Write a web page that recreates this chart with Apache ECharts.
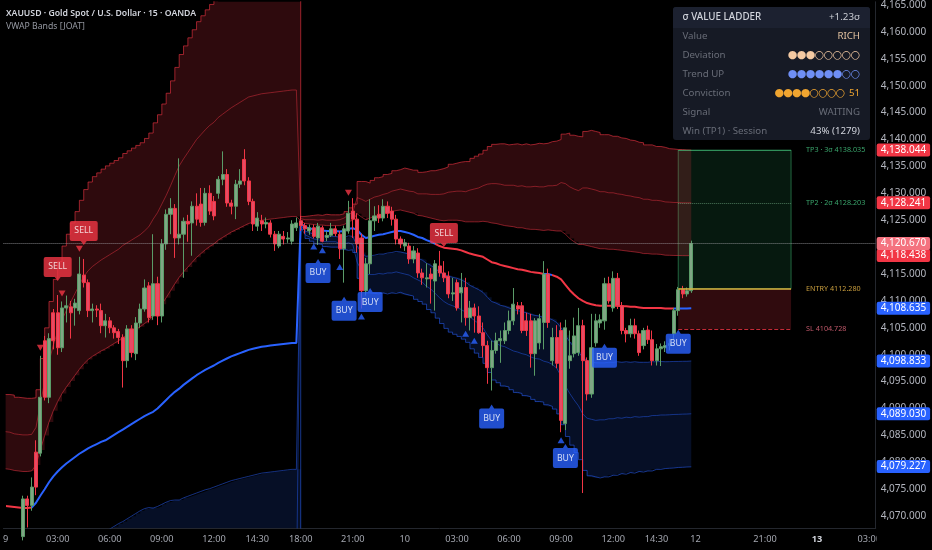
<!DOCTYPE html>
<html><head><meta charset="utf-8">
<script src="https://cdn.jsdelivr.net/npm/echarts@6/dist/echarts.min.js"></script>
<style>html,body{margin:0;padding:0;background:#000;}#c{width:932px;height:550px;}</style>
</head><body><div id="c"></div>
<script>
// ---------- DATA ----------
const open = [
4064.5,4065.0,4064.2,4065.3,4066.2,4073.2,4072.0,4081.9,4081.7,4102.6,
4092.1,4107.8,4107.8,4101.3,4108.7,4108.9,4108.7,4108.2,4114.8,4113.4,
4108.2,4108.5,4108.2,4105.4,4106.3,4105.0,4104.3,4103.2,4098.9,4104.8,
4100.2,4105.9,4108.5,4112.8,4107.2,4113.2,4107.2,4120.6,4126.1,4127.2,
4121.7,4122.4,4124.8,4124.5,4127.6,4128.0,4124.6,4130.0,4128.5,4130.0,
4132.6,4133.5,4128.2,4127.6,4131.7,4136.3,4132.3,4128.5,4123.9,4124.9,
4124.3,4124.5,4122.4,4120.2,4122.0,4121.5,4121.1,4123.6,
4124.9,4124.0,4123.0,4123.6,4121.7,4123.6,4121.8,4122.2,4123.4,4122.4,
4119.7,4123.0,4126.7,4125.2,4121.7,4111.9,4116.9,4124.9,4126.1,4125.4,
4127.6,4126.7,4125.2,4121.5,4120.2,4120.2,4117.8,4118.9,4115.2,4114.1,
4115.0,4113.7,4116.5,4115.2,4114.6,4111.3,4113.4,4111.5,4112.5,4106.9,
4108.7,4107.2,4104.1,4101.7,4097.6,4100.8,4102.6,4102.6,4104.5,4106.3,
4109.1,4109.1,4106.3,4106.3,4100.2,4102.2,4106.0,4115.0,4098.9,4103.2,
4104.5,4087.2,4098.9,4100.2,4100.4,4105.4,4098.9,4092.7,4102.2,4105.9,
4106.3,4113.2,4108.7,4114.2,4109.1,4104.5,4103.9,4105.4,4103.9,4101.7,
4104.6,4102.8,4098.9,4101.1,4101.3,4101.7,4103.9,4108.2,4112.1,4111.3,
4111.9];
const high = [
4066.2,4066.8,4066.0,4067.4,4073.8,4073.8,4077.2,4084.1,4099.8,4103.5,
4104.0,4108.5,4111.1,4109.9,4111.0,4110.0,4110.4,4118.2,4117.8,4114.0,
4109.5,4109.2,4109.5,4107.6,4107.0,4105.5,4104.8,4103.8,4105.5,4105.5,
4107.0,4109.5,4114.0,4113.5,4122.4,4114.5,4121.5,4127.0,4129.1,4128.0,
4136.5,4125.5,4126.0,4128.5,4130.0,4131.0,4131.0,4131.5,4129.5,4133.2,
4137.8,4134.5,4128.8,4132.5,4134.5,4138.2,4133.0,4129.0,4126.5,4126.0,
4125.5,4125.0,4123.0,4123.0,4123.0,4122.8,4125.0,4125.5,
4125.8,4124.5,4124.2,4124.2,4124.5,4124.0,4123.0,4124.5,4124.0,4123.0,
4124.0,4128.6,4129.1,4126.3,4122.5,4118.0,4128.9,4127.6,4127.8,4128.9,
4128.5,4127.5,4126.0,4122.0,4121.5,4120.8,4120.2,4119.8,4116.0,4117.0,
4116.1,4117.6,4119.3,4117.4,4115.5,4114.3,4114.0,4115.2,4114.3,4110.0,
4109.5,4109.0,4106.0,4102.6,4102.6,4104.1,4104.5,4106.0,4108.2,4112.4,
4109.8,4109.8,4107.8,4107.6,4106.8,4107.6,4117.4,4116.0,4105.0,4105.5,
4106.0,4106.5,4104.5,4106.9,4108.7,4106.5,4099.5,4107.6,4107.6,4107.5,
4114.3,4114.5,4115.5,4115.2,4109.8,4105.0,4106.7,4106.7,4104.5,4105.0,
4105.4,4104.5,4102.0,4102.1,4102.5,4103.0,4108.7,4112.6,4112.8,4112.5,
4121.2];
const low = [
4063.0,4063.8,4062.9,4064.4,4065.5,4067.9,4071.0,4073.9,4081.1,4091.5,
4091.0,4101.0,4100.0,4100.5,4106.0,4103.0,4105.4,4107.5,4112.5,4107.0,
4106.0,4107.0,4104.0,4103.2,4104.0,4103.0,4102.0,4093.9,4097.6,4099.5,
4099.0,4105.0,4108.0,4106.0,4106.5,4105.5,4106.0,4119.5,4122.4,4118.0,
4120.5,4114.3,4121.0,4118.4,4124.0,4123.8,4124.0,4126.0,4125.0,4129.0,
4131.5,4127.5,4126.1,4125.2,4131.0,4131.5,4127.8,4123.0,4123.0,4123.0,
4123.5,4121.8,4119.3,4119.8,4120.5,4120.8,4120.5,4123.0,
4123.0,4122.5,4122.3,4121.6,4120.4,4120.9,4121.1,4121.9,4122.0,4117.8,
4113.4,4122.5,4121.7,4119.0,4108.6,4111.0,4115.0,4123.0,4124.5,4124.8,
4125.4,4124.0,4120.5,4119.8,4119.3,4116.9,4117.0,4114.3,4113.0,4112.5,
4109.5,4108.2,4114.5,4113.5,4110.5,4110.0,4108.2,4106.0,4105.4,4104.5,
4104.1,4103.9,4099.5,4094.6,4093.35,4100.2,4098.5,4102.0,4103.8,4105.5,
4107.5,4104.0,4103.5,4097.6,4096.1,4101.0,4101.0,4105.0,4098.0,4097.5,
4085.6,4086.0,4097.4,4099.5,4099.8,4074.3,4091.5,4092.0,4101.5,4105.0,
4104.65,4109.5,4108.0,4108.5,4103.8,4102.3,4103.2,4103.0,4099.8,4101.0,
4102.0,4098.0,4098.0,4097.9,4100.5,4100.8,4102.8,4107.25,4110.5,4110.8,
4111.5];
const close = [
4065.0,4064.2,4065.3,4066.2,4073.2,4072.0,4075.4,4075.4,4092.1,4092.1,
4103.0,4102.6,4101.3,4108.7,4109.1,4107.8,4109.6,4115.0,4113.4,4108.2,
4108.5,4108.3,4105.4,4106.3,4105.0,4104.1,4103.2,4098.9,4104.8,4100.4,
4105.9,4108.5,4112.4,4106.9,4113.2,4107.2,4120.6,4126.1,4127.2,4121.7,
4122.4,4124.8,4124.3,4127.6,4125.2,4124.6,4130.0,4126.7,4125.8,4132.6,
4133.5,4128.2,4127.6,4131.7,4132.3,4132.3,4128.5,4124.3,4125.4,4124.3,
4124.6,4122.4,4120.6,4122.4,4121.5,4121.7,4124.3,4124.5,
4124.0,4123.4,4123.6,4122.0,4123.9,4121.1,4122.2,4123.4,4122.5,4119.7,
4123.4,4126.3,4125.2,4120.6,4111.9,4116.9,4124.9,4125.8,4125.4,4127.6,
4126.3,4125.2,4121.5,4120.6,4120.8,4117.8,4119.3,4115.2,4114.3,4114.3,
4114.1,4116.9,4115.2,4114.3,4111.3,4111.5,4108.7,4112.5,4106.9,4108.7,
4107.2,4104.1,4101.7,4097.6,4100.8,4102.6,4103.0,4104.5,4106.3,4109.4,
4108.5,4104.5,4104.5,4100.2,4106.3,4106.7,4115.0,4106.0,4103.2,4098.4,
4087.8,4105.0,4099.8,4103.5,4105.4,4098.9,4092.7,4101.3,4106.3,4106.5,
4113.2,4110.0,4114.2,4109.1,4104.5,4103.9,4105.4,4103.9,4100.4,4104.5,
4102.8,4098.9,4101.1,4101.5,4101.7,4102.1,4108.2,4112.1,4111.3,4111.9,
4120.67];
const vwap = [
4071.9,4071.8,4071.7,4071.6,4071.5,4071.5,4071.6,4072.5,4073.8,4075.0,
4076.3,4077.4,4078.3,4079.1,4079.8,4080.4,4081.0,4081.6,4082.1,4082.6,
4083.0,4083.4,4083.8,4084.1,4084.6,4085.1,4085.6,4086.1,4086.6,4087.1,
4087.6,4088.1,4088.6,4089.0,4089.4,4090.0,4090.8,4091.6,4092.4,4093.1,
4093.7,4094.4,4095.0,4095.6,4096.2,4096.7,4097.2,4097.6,4098.0,4098.5,
4098.9,4099.3,4099.7,4100.0,4100.3,4100.6,4100.9,4101.1,4101.3,4101.5,
4101.6,4101.7,4101.8,4101.9,4102.0,4102.1,4102.2,4102.2,
4124.5,4123.7,4123.5,4123.3,4123.2,4123.1,4123.0,4123.0,4123.0,4122.9,
4123.0,4123.4,4123.5,4123.2,4122.3,4121.7,4121.9,4122.1,4122.3,4122.4,
4122.6,4122.8,4123.0,4123.0,4122.8,4122.6,4122.3,4121.9,4121.7,4121.3,
4121.0,4120.6,4120.2,4119.9,4119.8,4119.7,4119.6,4119.4,4119.1,4118.8,
4118.6,4118.4,4118.2,4117.7,4117.2,4117.0,4116.7,4116.5,4116.3,4116.1,
4115.9,4115.8,4115.6,4115.4,4115.3,4115.2,4115.0,4115.0,4114.8,4114.5,
4114.0,4113.0,4112.0,4111.2,4110.5,4110.0,4109.6,4109.4,4109.2,4109.1,
4109.1,4109.1,4109.1,4109.1,4109.0,4109.0,4108.9,4108.9,4108.8,4108.7,
4108.7,4108.7,4108.7,4108.7,4108.6,4108.6,4108.6,4108.6,4108.6,4108.6,
4108.6354];
const sigma = [
6.9,6.9,6.8,6.8,6.8,6.8,6.8,7.0,8.5,10.0,
11.2,12.2,13.0,13.7,14.2,14.7,15.2,15.7,16.2,16.5,
16.7,16.8,16.9,17.0,17.0,17.0,17.0,17.1,17.1,17.1,
17.1,17.1,17.2,17.4,17.9,18.2,18.6,19.0,19.5,20.1,
20.7,21.0,21.3,21.6,21.9,22.1,22.3,22.5,22.6,22.8,
22.9,23.0,23.1,23.2,23.3,23.4,23.5,23.5,23.5,23.5,
23.5,23.5,23.5,23.5,23.5,23.5,23.5,23.5,
0.4,0.7,0.8,0.9,0.9,1.0,1.0,1.0,1.0,1.1,
1.2,1.3,1.5,3.0,3.3,3.4,3.5,3.6,3.6,3.7,
3.7,3.8,3.8,3.9,3.9,3.9,4.0,4.0,4.1,4.3,
4.4,4.6,4.8,5.0,5.2,5.3,5.4,5.5,5.6,5.9,
6.1,6.3,6.6,7.0,7.3,7.4,7.5,7.5,7.6,7.7,
7.7,7.8,7.8,7.9,8.0,8.0,8.1,8.2,8.3,8.5,
9.0,9.4,9.6,9.8,10.0,10.5,10.7,10.7,10.7,10.6,
10.6,10.5,10.5,10.4,10.4,10.3,10.3,10.2,10.2,10.1,
10.1,10.0,10.0,9.95,9.9,9.88,9.85,9.84,9.82,9.81,
9.80275];
// VWAP colour regimes: [first bar, state]
const vwapTrend = [[0,'down'],[6,'up'],[99,'down'],[124,'up'],[126,'down'],[154,'up']];
// time axis
const slotCount = 201;
const timeTicks = [[0,'9'],[12,'03:00'],[24,'06:00'],[36,'09:00'],[48,'12:00'],[58,'14:30'],[68,'18:00'],[80,'21:00'],[92,'10'],[104,'03:00'],[116,'06:00'],[128,'09:00'],[140,'12:00'],[150,'14:30'],[159,'12'],[175,'21:00'],[187,'13'],[199,'03:00']];
const boldTicks = ['13'];
const priceTicks = [4070,4075,4080,4085,4090,4095,4100,4105,4110,4115,4120,4125,4130,4135,4140,4145,4150,4155,4160,4165];
// signals (bar indices)
const sellTriBars = [8,13,17,79];
const sellLabelBars = [12,18,101];
const buyTriBars = [71,73,77,82,106,108,128];
const buyLabelBars = [72,78,84,112,129,138,155];
// trade box
const tradeStart = 155, tradeEnd = 181;
const tradeEntry = 4112.280, tradeTP2 = 4128.203, tradeTP3 = 4138.035, tradeSL = 4104.728;
// table
const tableTitle = ['σ VALUE LADDER', '+1.23σ'];
const tableLabels = ['Value','Deviation','Trend UP','Conviction','Signal','Win (TP1) · Session'];
const tableText = {0:'RICH', 4:'WAITING', 5:'43% (1279)'};
const tableDots = {1:[3,8], 2:[6,8], 3:[4,8]};
const convictionScore = '51';
const headerTitle = 'XAUUSD · Gold Spot / U.S. Dollar · 15 · OANDA';
const headerSub = 'VWAP Bands [JOAT]';

// ---------- BUILD ----------
const FONT = "'Noto Sans', 'DejaVu Sans', sans-serif";
const RED = '#f23645', BLUE = '#2962ff';
const lastIdx = close.length - 1;
const slots = Array.from({length: slotCount}, (_, i) => String(i));
const tickMap = new Map(timeTicks);
const band = k => vwap.map((v, i) => v + k * sigma[i]);
const up1 = band(1), up2 = band(2), up3 = band(3), dn1 = band(-1), dn2 = band(-2), dn3 = band(-3);
const twoSigma = sigma.map(s => 2 * s);
const candleData = open.map((o, i) => [o, close[i], low[i], high[i]]);
const fmt = v => v.toLocaleString('en-US', {minimumFractionDigits: 3, maximumFractionDigits: 3});
const pieces = vwapTrend.map((r, k) => {
  const p = {gte: r[0] - 0.5, color: r[1] === 'up' ? BLUE : RED};
  if (k + 1 < vwapTrend.length) p.lt = vwapTrend[k + 1][0] - 0.5;
  return p;
});
const base = {type: 'line', symbol: 'none', silent: true, smooth: false};

const tagItems = [3, 2, 1, 0, -1, -2, -3].map(k => {
  const v = vwap[lastIdx] + k * sigma[lastIdx];
  return {yAxis: v, lineStyle: {color: 'rgba(0,0,0,0)', width: 0},
    label: {formatter: fmt(v), backgroundColor: k > 0 ? RED : BLUE}};
});
tagItems.push({yAxis: close[lastIdx],
  lineStyle: {type: 'dotted', color: 'rgba(170,170,175,0.75)', width: 1},
  label: {formatter: fmt(close[lastIdx]), backgroundColor: '#f4727f'}});

const tradeLine = (v, color, type, width, text, tcolor) => [
  {coord: [tradeStart, v], lineStyle: {color, type, width},
   label: {show: true, position: 'end', distance: 15, formatter: text, color: tcolor, fontSize: 7.2, fontFamily: FONT}},
  {coord: [tradeEnd, v]}];

const buyPath = 'path://M10,4 L12.5,0 L15,4 L23,4 Q25,4 25,6 L25,22 Q25,24 23,24 L2,24 Q0,24 0,22 L0,6 Q0,4 2,4 Z';
const sellPath = 'path://M2,0 L26,0 Q28,0 28,2 L28,18 Q28,20 26,20 L17,20 L14,24 L11,20 L2,20 Q0,20 0,18 L0,2 Q0,0 2,0 Z';

// table graphics
const TX = 673, TY = 7, TW = 197, TH = 133;
const tbl = [
  {type: 'rect', shape: {x: TX, y: TY, width: TW, height: TH, r: 3}, style: {fill: '#161a25'}},
  {type: 'rect', shape: {x: TX, y: TY, width: TW, height: 21, r: [3, 3, 0, 0]}, style: {fill: '#1c2130'}},
  {type: 'text', x: 682.5, y: 17.7, style: {text: tableTitle[0], fill: '#d1d4dc', font: `500 9.8px ${FONT}`, textVerticalAlign: 'middle'}},
  {type: 'text', x: 860, y: 17.7, style: {text: tableTitle[1], fill: '#c9ccd3', font: `9.8px ${FONT}`, textAlign: 'right', textVerticalAlign: 'middle'}}
];
const rowColors = {0: '#e2c2a0', 1: '#f3c9a2', 2: '#6f8ff5', 3: '#f0a530', 4: '#686c77', 5: '#d1d4dc'};
tableLabels.forEach((lab, r) => {
  const y = 36 + r * 19;
  tbl.push({type: 'text', x: 682.5, y, style: {text: lab, fill: '#686c77', font: `9.7px ${FONT}`, textVerticalAlign: 'middle'}});
  if (tableText[r] !== undefined) {
    tbl.push({type: 'text', x: 860, y, style: {text: tableText[r], fill: rowColors[r], font: `9.7px ${FONT}`, textAlign: 'right', textVerticalAlign: 'middle'}});
  }
  if (tableDots[r]) {
    const [filled, total] = tableDots[r];
    const endX = r === 3 ? 845 : 860;
    const pitch = r === 3 ? 8.75 : 9;
    for (let k = 0; k < total; k++) {
      const cx = endX - pitch / 2 - pitch * (total - 1 - k);
      tbl.push({type: 'text', x: cx, y: y + 0.5, style: {text: k < filled ? '●' : '○', fill: rowColors[r], font: `11px 'DejaVu Sans'`, textAlign: 'center', textVerticalAlign: 'middle'}});
    }
    if (r === 3) tbl.push({type: 'text', x: 860, y, style: {text: convictionScore, fill: rowColors[r], font: `9.7px ${FONT}`, textAlign: 'right', textVerticalAlign: 'middle'}});
  }
});

const chart = echarts.init(document.getElementById('c'), null, {renderer: 'canvas'});
chart.setOption({
  animation: false,
  backgroundColor: '#000000',
  grid: {left: -2.7, right: 56.3, top: 0, bottom: 22, containLabel: false},
  xAxis: {
    type: 'category', data: slots, boundaryGap: true,
    axisLine: {show: true, lineStyle: {color: '#24272e'}},
    axisTick: {show: false}, splitLine: {show: false},
    axisLabel: {
      interval: (i) => tickMap.has(i),
      formatter: (v, i) => { const t = tickMap.get(i) || ''; return boldTicks.includes(t) ? `{b|${t}}` : t; },
      color: '#a3a6af', fontSize: 9.2, fontFamily: FONT, margin: 7,
      rich: {b: {fontWeight: 'bold', color: '#d1d4dc', fontSize: 9.2, fontFamily: FONT}}
    }
  },
  yAxis: {
    type: 'value', position: 'right', min: 4067.8, max: 4165.6,
    axisLine: {show: true, lineStyle: {color: '#24272e'}},
    axisTick: {show: false}, splitLine: {show: false},
    axisLabel: {customValues: priceTicks, formatter: v => fmt(v), color: '#b2b5be', fontSize: 10, fontFamily: FONT, margin: 5}
  },
  visualMap: [{type: 'piecewise', show: false, seriesIndex: 8, dimension: 0, pieces}],
  series: [
    {...base, name: 'up1', data: up1, stack: 'up', lineStyle: {width: 1, color: 'rgba(242,54,69,0.5)'}, z: 1},
    {...base, name: 'upFill', data: twoSigma, stack: 'up', step: 'end', lineStyle: {width: 0, opacity: 0}, areaStyle: {color: 'rgba(242,54,69,0.19)', opacity: 1}, z: 1},
    {...base, name: 'up2', data: up2, lineStyle: {width: 1, color: 'rgba(242,54,69,0.45)'}, z: 2},
    {...base, name: 'up3', data: up3, step: 'end', lineStyle: {width: 1, color: 'rgba(242,54,69,0.6)'}, z: 2},
    {...base, name: 'dn3', data: dn3, stack: 'dn', step: 'end', lineStyle: {width: 1, color: 'rgba(41,98,255,0.55)'}, z: 1},
    {...base, name: 'dnFill', data: twoSigma, stack: 'dn', step: 'end', lineStyle: {width: 0, opacity: 0}, areaStyle: {color: 'rgba(41,98,255,0.15)', opacity: 1}, z: 1},
    {...base, name: 'dn1', data: dn1, lineStyle: {width: 1, color: 'rgba(41,98,255,0.5)'}, z: 2},
    {...base, name: 'dn2', data: dn2, lineStyle: {width: 1, color: 'rgba(41,98,255,0.45)'}, z: 2},
    {...base, name: 'vwap', data: vwap, lineStyle: {width: 2}, z: 3},
    {...base, name: 'trade', data: [], z: 3,
      markArea: {silent: true, data: [
        [{coord: [tradeStart, tradeEntry], itemStyle: {color: 'rgba(38,166,100,0.15)', borderColor: 'rgba(60,175,110,0.55)', borderWidth: 1}}, {coord: [tradeEnd, tradeTP3]}],
        [{coord: [tradeStart, tradeSL], itemStyle: {color: 'rgba(242,54,69,0.2)'}}, {coord: [tradeEnd, tradeEntry]}]
      ]},
      markLine: {silent: true, symbol: ['none', 'none'], data: [
        tradeLine(tradeTP3, 'rgba(60,175,110,0.7)', 'solid', 1, `TP3 · 3σ ${tradeTP3.toFixed(3)}`, '#3aa56c'),
        tradeLine(tradeTP2, 'rgba(120,180,140,0.6)', 'dotted', 1, `TP2 · 2σ ${tradeTP2.toFixed(3)}`, '#3aa56c'),
        tradeLine(tradeEntry, '#d6b03c', 'solid', 1.5, `ENTRY ${tradeEntry.toFixed(3)}`, '#c99e3e'),
        tradeLine(tradeSL, 'rgba(242,54,69,0.8)', 'dashed', 1, `SL ${tradeSL.toFixed(3)}`, '#c0586a')
      ]}
    },
    {type: 'candlestick', data: candleData, barWidth: 3.6, silent: true, z: 4,
      itemStyle: {color: '#7fa684', color0: '#e64a64', borderColor: '#5a9c68', borderColor0: '#f23645', borderWidth: 1}},
    {type: 'scatter', data: buyTriBars.map(i => [i, low[i]]), symbol: 'triangle', symbolSize: [7, 6], symbolOffset: [0, 8], itemStyle: {color: BLUE}, silent: true, z: 5},
    {type: 'scatter', data: sellTriBars.map(i => [i, high[i]]), symbol: 'triangle', symbolRotate: 180, symbolSize: [7, 6], symbolOffset: [0, -8], itemStyle: {color: RED}, silent: true, z: 5},
    {type: 'scatter', data: buyLabelBars.map(i => [i, low[i]]), symbol: buyPath, symbolSize: [25, 24], symbolOffset: [0, 26], itemStyle: {color: BLUE}, silent: true, z: 6,
      label: {show: true, position: 'inside', formatter: 'BUY', offset: [0, 2], color: '#ffffff', fontSize: 8.7, fontFamily: FONT}},
    {type: 'scatter', data: sellLabelBars.map(i => [i, high[i]]), symbol: sellPath, symbolSize: [28, 24], symbolOffset: [0, -26], itemStyle: {color: RED}, silent: true, z: 6,
      label: {show: true, position: 'inside', formatter: 'SELL', offset: [0, -2], color: '#ffffff', fontSize: 8.7, fontFamily: FONT}},
    {...base, name: 'tags', data: [], z: 10,
      markLine: {silent: true, symbol: ['none', 'none'],
        label: {show: true, position: 'end', distance: 1, color: '#ffffff', fontSize: 10, fontFamily: FONT, padding: [2, 4, 1, 4], borderRadius: 2},
        data: tagItems}}
  ],
  graphic: [
    {type: 'text', x: 6, y: 13.3, z: 100, style: {text: headerTitle, fill: '#d1d4dc', font: `600 8.7px ${FONT}`, textVerticalAlign: 'middle'}},
    {type: 'text', x: 6, y: 26.5, z: 100, style: {text: headerSub, fill: '#9598a1', font: `8.7px ${FONT}`, textVerticalAlign: 'middle'}},
    {type: 'group', z: 100, children: tbl},
    {type: 'rect', z: 100, shape: {x: 876.6, y: 529, width: 60, height: 22}, style: {fill: '#000000'}}
  ]
});
</script>
</body></html>
